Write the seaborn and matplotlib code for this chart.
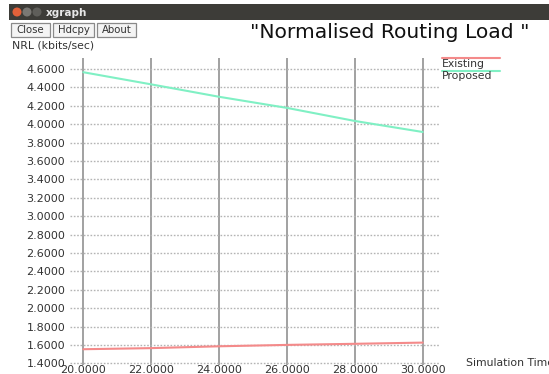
import matplotlib
matplotlib.use("Agg")
import matplotlib.pyplot as plt
from matplotlib.patches import Rectangle, Circle
from matplotlib.lines import Line2D
import seaborn as sns
import pandas as pd

# Simulation time samples and normalised routing load per scheme
sim_time = [20, 22, 24, 26, 28, 30]
existing = [1.553, 1.565, 1.585, 1.600, 1.612, 1.625]
proposed = [4.565, 4.433, 4.298, 4.177, 4.035, 3.915]
series_names = ["Existing", "Proposed"]
series_colors = ["#f48a8a", "#80f0c4"]
x_ticks = [20, 22, 24, 26, 28, 30]
y_ticks = [1.4, 1.6, 1.8, 2.0, 2.2, 2.4, 2.6, 2.8, 3.0, 3.2, 3.4, 3.6, 3.8, 4.0, 4.2, 4.4, 4.6]

df = pd.DataFrame({
    "time": sim_time * 2,
    "nrl": existing + proposed,
    "scheme": ["Existing"] * len(sim_time) + ["Proposed"] * len(sim_time),
})

W, H = 549, 374
sns.set_style("white")
plt.rcParams["font.family"] = ["DejaVu Sans"]
fig = plt.figure(figsize=(W / 100, H / 100), dpi=100)
fig.patch.set_facecolor("white")
T = fig.dpi_scale_trans


def px(x, y):
    return (x / 100, (H - y) / 100)


# window title bar
fig.add_artist(Rectangle(px(9, 20), (W - 9) / 100, 16 / 100, transform=T,
                         facecolor="#3d3c38", edgecolor="none"))
for cx, col in [(17, "#e2613a"), (27, "#7a7874"), (37, "#5f5e5a")]:
    fig.add_artist(Circle(px(cx, 12), 4.5 / 100, transform=T, facecolor=col,
                          edgecolor="none"))
fig.text(*px(46, 12.5), "xgraph", transform=T, color="#e8e8e8", fontsize=7.5,
         fontweight="bold", va="center", ha="left")

# buttons
for x0, x1, label in [(11, 50, "Close"), (53, 94, "Hdcpy"), (97, 136, "About")]:
    fig.add_artist(Rectangle(px(x0, 37), (x1 - x0) / 100, 14 / 100, transform=T,
                             facecolor="#f4f4f4", edgecolor="#8a8a8a", lw=0.9))
    fig.text(*px((x0 + x1) / 2, 30), label, transform=T, fontsize=7.3,
             color="#333333", ha="center", va="center")

fig.text(*px(390, 33), '"Normalised Routing Load "', transform=T, fontsize=14.6,
         color="#111111", ha="center", va="center")
fig.text(*px(12, 45), "NRL (kbits/sec)", transform=T, fontsize=7.8,
         color="#333333", ha="left", va="center")
fig.text(*px(466, 363), "Simulation Time", transform=T, fontsize=7.8,
         color="#333333", ha="left", va="center")

# plot area
ax_l, ax_r, ax_t, ax_b = 70, 440, 58, 365
ax = fig.add_axes([ax_l / W, (H - ax_b) / H, (ax_r - ax_l) / W, (ax_b - ax_t) / H])
ax.set_facecolor("none")

sns.lineplot(data=df, x="time", y="nrl", hue="scheme", hue_order=series_names,
             palette=series_colors, ax=ax, lw=1.5, legend=False, zorder=3)

x_per_px = 10 / (422.7 - 83.3)
y_per_px = 3.2 / (363.3 - 69)
ax.set_xlim(20 - (83.3 - ax_l) * x_per_px, 30 + (ax_r - 422.7) * x_per_px)
ax.set_ylim(1.4 - (ax_b - 363.3) * y_per_px, 4.6 + (69 - ax_t) * y_per_px)
ax.set_xticks(x_ticks)
ax.set_yticks(y_ticks)
ax.set_xticklabels([f"{v:.4f}" for v in x_ticks])
ax.set_yticklabels([f"{v:.4f}" for v in y_ticks])
ax.tick_params(axis="both", length=0, labelsize=8, colors="#333333")
ax.tick_params(axis="y", pad=3.5)
ax.tick_params(axis="x", pad=0.3)
ax.set_xlabel("")
ax.set_ylabel("")
for s in ax.spines.values():
    s.set_visible(False)
ax.grid(axis="x", color="#9a9a9a", lw=1.3, ls="-")
ax.grid(axis="y", color="#b4b4b4", lw=1.0, ls=(0, (1.2, 1.2)))
ax.set_axisbelow(True)

# legend entries to the right of the grid
for i, (name, col) in enumerate(zip(series_names, series_colors)):
    yl = 58.3 + i * 12.4
    fig.add_artist(Line2D([442 / 100, 500 / 100], [(H - yl) / 100] * 2,
                          transform=T, color=col, lw=1.5))
    fig.text(*px(442, yl + 5.5), name, transform=T, fontsize=7.8,
             color="#333333", ha="left", va="center")

fig.savefig("out.png", dpi=100)
